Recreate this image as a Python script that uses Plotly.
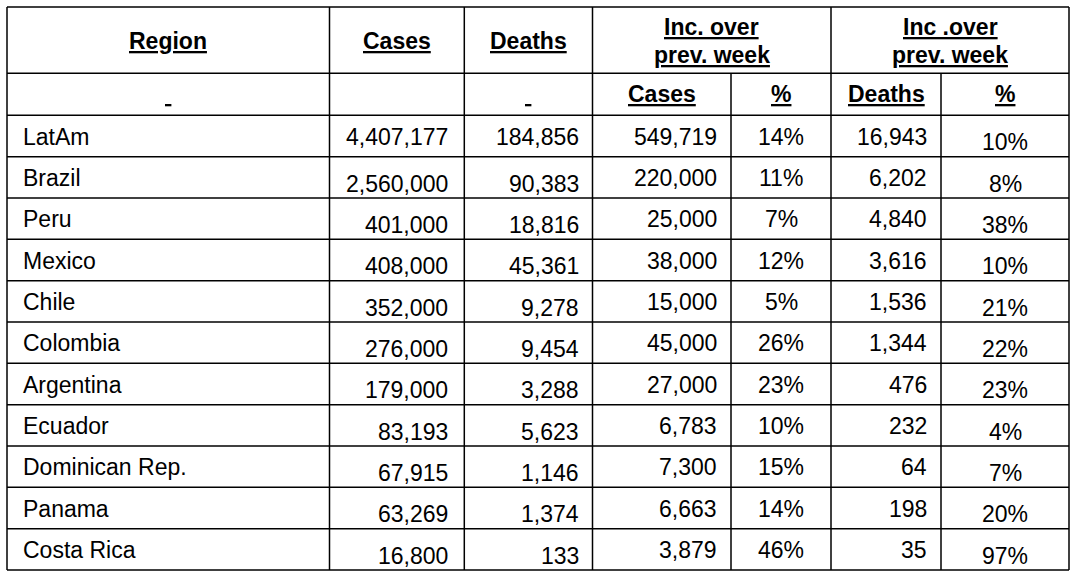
import plotly.graph_objects as go

# ---------------- data ----------------
regions = ["LatAm", "Brazil", "Peru", "Mexico", "Chile", "Colombia", "Argentina",
           "Ecuador", "Dominican Rep.", "Panama", "Costa Rica"]
cases = [4407177, 2560000, 401000, 408000, 352000, 276000, 179000, 83193, 67915, 63269, 16800]
deaths = [184856, 90383, 18816, 45361, 9278, 9454, 3288, 5623, 1146, 1374, 133]
inc_cases = [549719, 220000, 25000, 38000, 15000, 45000, 27000, 6783, 7300, 6663, 3879]
inc_cases_pct = [14, 11, 7, 12, 5, 26, 23, 10, 15, 14, 46]
inc_deaths = [16943, 6202, 4840, 3616, 1536, 1344, 476, 232, 64, 198, 35]
inc_deaths_pct = [10, 8, 38, 10, 21, 22, 23, 4, 7, 20, 97]

top_headers = ["Region", "Cases", "Deaths"]
group_headers = [["Inc. over", "prev. week"], ["Inc .over", "prev. week"]]
sub_headers = ["\u00a0", "", "\u00a0", "Cases", "%", "Deaths", "%"]

# ---------------- layout geometry (pixels) ----------------
W, H = 1080, 574
col_edges = [7, 329.5, 464.3, 592.5, 731, 831, 941, 1069]
row1_top, row1_bot, row2_bot = 7, 73.3, 115.3
n_rows = len(regions)
row_h = (570 - row2_bot) / n_rows
row_tops = [row2_bot + i * row_h for i in range(n_rows)]

FONT = "Arial, 'Liberation Sans', sans-serif"
FS = 23
LINE = dict(color="black", width=1.5)

def u(s):
    return "<b><span style='text-decoration:underline'>" + s + "</span></b>"

fig = go.Figure()
shapes = []
# horizontal lines
for y in [row1_top, row1_bot, row2_bot] + row_tops[1:] + [570]:
    shapes.append(dict(type="line", x0=col_edges[0], x1=col_edges[-1], y0=y, y1=y,
                       xref="x", yref="y", line=LINE))
# vertical lines (full height)
for i in [0, 1, 2, 3, 5, 7]:
    shapes.append(dict(type="line", x0=col_edges[i], x1=col_edges[i], y0=row1_top, y1=570,
                       xref="x", yref="y", line=LINE))
# vertical lines below merged headers
for i in [4, 6]:
    shapes.append(dict(type="line", x0=col_edges[i], x1=col_edges[i], y0=row1_bot, y1=570,
                       xref="x", yref="y", line=LINE))

ann = []
def add(text, x, y, xanchor="center"):
    ann.append(dict(text=text, x=x, y=y, xref="x", yref="y", xanchor=xanchor,
                    yanchor="middle", showarrow=False,
                    font=dict(family=FONT, size=FS, color="black")))

def cx(i):
    return (col_edges[i] + col_edges[i + 1]) / 2

MID_OFF = 7.5  # baseline - box middle
# header row 1
for i, t in enumerate(top_headers):
    add(u(t), cx(i), 48.3 - MID_OFF)
for g, (c0, c1) in zip(group_headers, [(3, 5), (5, 7)]):
    xc = (col_edges[c0] + col_edges[c1]) / 2
    add(u(g[0]), xc, 34.5 - MID_OFF)
    add(u(g[1]), xc, 62.8 - MID_OFF)
# header row 2
for i, t in enumerate(sub_headers):
    if t:
        add(u(t), cx(i), row1_bot + 28.4 - MID_OFF)

# data rows
TOP_BASE, BOT_BASE = 29.0, 34.5
right_pad = [None, 16, 14, 14.5, None, 14, None]
columns = [regions,
           [f"{v:,}" for v in cases],
           [f"{v:,}" for v in deaths],
           [f"{v:,}" for v in inc_cases],
           [f"{v}%" for v in inc_cases_pct],
           [f"{v:,}" for v in inc_deaths],
           [f"{v}%" for v in inc_deaths_pct]]
for r in range(n_rows):
    for c, col in enumerate(columns):
        bottom = (c in (1, 2) and r > 0) or c == 6
        y = row_tops[r] + (BOT_BASE if bottom else TOP_BASE) - MID_OFF
        if c == 0:
            add(col[r], col_edges[0] + 13.7, y, "left")
        elif c in (4, 6):
            add(col[r], cx(c), y)
        else:
            add(col[r], col_edges[c + 1] - right_pad[c] + 2, y, "right")

fig.update_layout(
    width=W, height=H, margin=dict(l=0, r=0, t=0, b=0),
    paper_bgcolor="white", plot_bgcolor="white",
    xaxis=dict(range=[0, W], visible=False, fixedrange=True),
    yaxis=dict(range=[H, 0], visible=False, fixedrange=True),
    shapes=shapes, annotations=ann, showlegend=False,
)
fig.write_html("out.html", config={"displayModeBar": False},
               post_script="document.body.style.margin='0';")
